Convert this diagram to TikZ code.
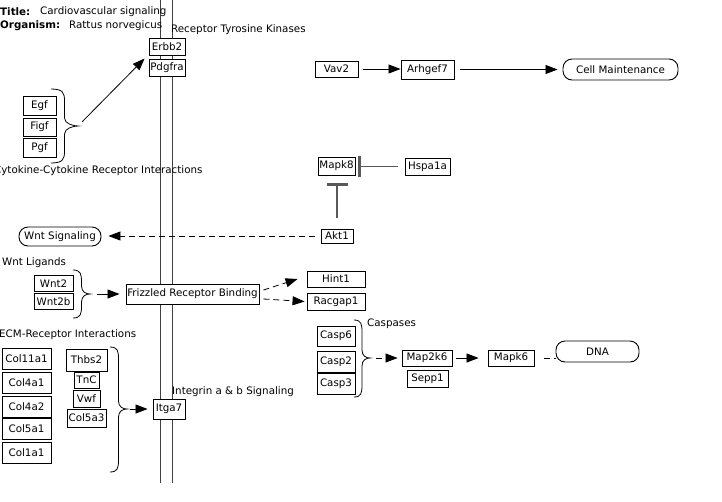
\documentclass[tikz,border=0pt]{standalone}
\usepackage{fontspec}
\setmainfont{DejaVu Sans}
\usetikzlibrary{arrows.meta,calc}
\newcommand\mybrace[5]{%
 \draw[brc] (#1,#2) .. controls ({#1+0.45*(#4-#1)},#2) and ({(#1+#4)/2},{#2+4}) .. ({(#1+#4)/2},{#2+12})
  -- ({(#1+#4)/2},{#5-8}) .. controls ({(#1+#4)/2},{#5-2}) and ({#4-4},#5) .. (#4,#5)
  .. controls ({#4-4},#5) and ({(#1+#4)/2},{#5+2}) .. ({(#1+#4)/2},{#5+8})
  -- ({(#1+#4)/2},{#3-12}) .. controls ({(#1+#4)/2},{#3-4}) and ({#1+0.45*(#4-#1)},#3) .. (#1,#3);}
\begin{document}
\begin{tikzpicture}[x=1pt,y=-1pt,
  every node/.style={font=\fontsize{10.3}{12}\selectfont},
  gene/.style={draw=black, line width=0.9pt, fill=white, inner sep=0pt, align=center},
  rnd/.style={gene, rounded corners=9pt},
  lbl/.style={inner sep=0pt, anchor=west},
  arr/.style={line width=0.8pt, -{Triangle[length=12pt,width=9pt]}},
  darr/.style={arr, dash pattern=on 6pt off 4pt},
  dln/.style={line width=0.8pt, dash pattern=on 6pt off 4pt},
  inh/.style={line width=1.1pt, draw=black!65, -{Bar[width=21pt,line width=2.4pt]}},
  brc/.style={line width=0.8pt},
  memb/.style={line width=0.9pt, draw=black!75}
]
\useasboundingbox (0,0) rectangle (722,501);
% membrane
\draw[memb] (160,0) -- (160,483);
\draw[memb] (172,0) -- (172,483);

% labels
\node[lbl, font=\fontsize{10.3}{12}\selectfont\bfseries] (tl) at (0,12) {Title:};
\node[lbl] (tv) at (40,12) {Cardiovascular signaling};
\node[lbl, font=\fontsize{10.3}{12}\selectfont\bfseries] (ol) at (0,26) {Organism:};
\node[lbl] (ov) at (69,26) {Rattus norvegicus};
\node[lbl] (rtk) at (171,30) {Receptor Tyrosine Kinases};
\begin{scope}
\clip (0,158) rectangle (201,182);
\node[lbl] (cyt) at (-6,171) {Cytokine-Cytokine Receptor Interactions};
\end{scope}
\node[lbl] (wntl) at (2,263) {Wnt Ligands};
\node[lbl] (ecm) at (-1,335) {ECM-Receptor Interactions};
\node[lbl] (intg) at (172,392) {Integrin a \& b Signaling};
\node[lbl] (casl) at (367,324) {Caspases};

% genes
\node[gene, minimum width=36pt, minimum height=17pt] (erbb2) at (167,46.5) {Erbb2};
\node[gene, minimum width=36pt, minimum height=17pt] (pdgfra) at (167,67.5) {Pdgfra};
\node[gene, minimum width=33pt, minimum height=19pt] (egf) at (39.5,105.5) {Egf};
\node[gene, minimum width=33pt, minimum height=18pt] (figf) at (39.5,127) {Figf};
\node[gene, minimum width=33pt, minimum height=19pt] (pgf) at (39.5,147.5) {Pgf};
\node[gene, minimum width=43pt, minimum height=16pt] (vav2) at (336.5,69) {Vav2};
\node[gene, minimum width=53pt, minimum height=19pt] (arhgef7) at (427.5,69.5) {Arhgef7};
\node[rnd, minimum width=115pt, minimum height=21pt] (cellm) at (620.5,69.5) {Cell Maintenance};
\node[gene, minimum width=37pt, minimum height=18pt] (mapk8) at (336.5,166) {Mapk8};
\node[gene, minimum width=45pt, minimum height=17pt] (hspa) at (427.5,166.5) {Hspa1a};
\node[gene, minimum width=32pt, minimum height=14pt] (akt1) at (337,236) {Akt1};
\node[rnd, minimum width=82pt, minimum height=19pt] (wntsig) at (60,236.5) {Wnt Signaling};
\node[gene, minimum width=39pt, minimum height=16pt] (wnt2) at (53.5,283.5) {Wnt2};
\node[gene, minimum width=39pt, minimum height=16pt] (wnt2b) at (53.5,301.5) {Wnt2b};
\node[gene, minimum width=133pt, minimum height=20pt] (friz) at (192.5,294) {Frizzled Receptor Binding};
\node[gene, minimum width=58pt, minimum height=16pt] (hint1) at (336,279) {Hint1};
\node[gene, minimum width=58pt, minimum height=17pt] (racgap1) at (336,301.5) {Racgap1};
\node[gene, minimum width=49pt, minimum height=21pt] (col11a1) at (26.5,358.5) {Col11a1};
\node[gene, minimum width=49pt, minimum height=21pt] (col4a1) at (26.5,382.5) {Col4a1};
\node[gene, minimum width=49pt, minimum height=21pt] (col4a2) at (26.5,406.5) {Col4a2};
\node[gene, minimum width=49pt, minimum height=21pt] (col5a1) at (26.5,428.5) {Col5a1};
\node[gene, minimum width=49pt, minimum height=21pt] (col1a1) at (26.5,452.5) {Col1a1};
\node[gene, minimum width=41pt, minimum height=22pt] (thbs2) at (86.5,360) {Thbs2};
\node[gene, minimum width=25pt, minimum height=16pt] (tnc) at (86.5,380) {TnC};
\node[gene, minimum width=27pt, minimum height=17pt] (vwf) at (86.5,398.5) {Vwf};
\node[gene, minimum width=39pt, minimum height=18pt] (col5a3) at (86.5,418) {Col5a3};
\node[gene, minimum width=32pt, minimum height=20pt] (itga7) at (169,409) {Itga7};
\node[gene, minimum width=38pt, minimum height=20pt] (casp6) at (336,336) {Casp6};
\node[gene, minimum width=38pt, minimum height=21pt] (casp2) at (336,361.5) {Casp2};
\node[gene, minimum width=38pt, minimum height=21pt] (casp3) at (336,383.5) {Casp3};
\node[gene, minimum width=50pt, minimum height=16pt] (map2k6) at (427,358) {Map2k6};
\node[gene, minimum width=41pt, minimum height=17pt] (sepp1) at (427.5,378.5) {Sepp1};
\node[gene, minimum width=46pt, minimum height=16pt] (mapk6) at (511,358) {Mapk6};
\node[rnd, minimum width=83pt, minimum height=21pt] (dna) at (597.5,351.5) {DNA};

% braces
\mybrace{51}{89}{163}{78}{126}
\coordinate (br1) at (78,126);
\mybrace{73}{270}{318}{90}{294}
\coordinate (br2) at (90,294);
\mybrace{110}{347}{472}{127}{409}
\coordinate (br3) at (127,409);
\mybrace{354}{320}{397}{370}{358}
\coordinate (br4) at (370,358);

% connectors
\draw[arr, shorten <=6pt] (br1) -- ($(pdgfra.north west)+(-4,0)$);
\draw[arr, shorten <=5pt] (vav2.east) -- (vav2.east -| arhgef7.west);
\draw[arr, shorten <=6pt, shorten >=5pt] (arhgef7.east) -- (arhgef7.east -| cellm.west);
\draw[inh, shorten <=7pt, shorten >=3pt] (hspa.west) -- (hspa.west -| mapk8.east);
\draw[inh, shorten <=11pt, shorten >=8pt] (akt1.north) -- (akt1.north |- mapk8.south);
\draw[darr, shorten <=6pt, shorten >=7pt] (akt1.west) -- (akt1.west -| wntsig.east);
\draw[arr, shorten <=7pt, shorten >=6pt] (br2) -- (friz.west);
\draw[darr] ($(friz.east)+(4,-4)$) -- ($(hint1.west)+(-9,0)$);
\draw[darr] ($(friz.east)+(4,5)$) -- ($(racgap1.west)+(-2,0)$);
\draw[arr, shorten <=3pt, shorten >=5pt] (br3) -- (itga7.west);
\draw[darr, shorten <=6pt, shorten >=4pt] (br4) -- (map2k6.west);
\draw[arr, shorten <=4pt, shorten >=9pt] (map2k6.east) -- (mapk6.west);
\draw[dln, shorten <=10pt] (mapk6.east) -- (mapk6.east -| dna.west);
\end{tikzpicture}
\end{document}
